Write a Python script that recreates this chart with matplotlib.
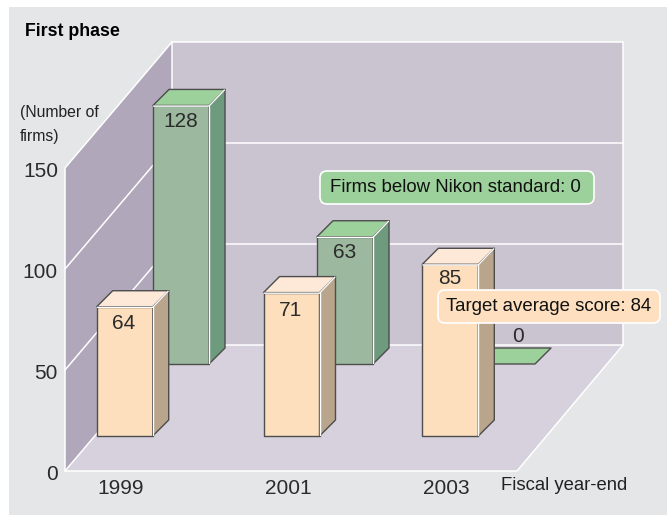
import numpy as np
import matplotlib
matplotlib.use("Agg")
import matplotlib.pyplot as plt
from matplotlib.patches import Polygon, FancyBboxPatch

years = ["1999", "2001", "2003"]
avg_score = [64, 71, 85]
firms = [128, 63, 0]
y_ticks = [0, 50, 100, 150]

# layout, all in pixels of the 672x515 picture
PX = 2.02          # pixels per firm
BASE = 471         # pixel row of value 0 on the front edge
front_x = [96.7, 263.5, 422.3]
back_x = [153, 317, 479]
front_gap = [17, 18, 14]
BAR_W = 56
BAR_D = 16
FRONT_LIFT = 35
BACK_LIFT = 107
WALL_DX, WALL_DY = 107, 126
FLOOR_L, FLOOR_R = 65, 517

BG = "#E5E6E8"
WALL = "#CAC3D0"
SIDE_WALL = "#B0A7BA"
FLOOR = "#D6D1DC"
TXT = "#2b2b2b"

plt.rcParams['font.family'] = ['Liberation Sans']

fig = plt.figure(figsize=(6.72, 5.15), dpi=100, facecolor="white")
ax = fig.add_axes([0, 0, 1, 1])
ax.set_xlim(0, 672)
ax.set_ylim(-(515 - BASE) / PX, BASE / PX)
ax.axis("off")


def up(px):
    return px / PX


def row(py):
    return (BASE - py) / PX


def poly(pts, fc, ec="none", lw=0, z=1):
    ax.add_patch(Polygon(pts, closed=True, fc=fc, ec=ec, lw=lw, zorder=z, joinstyle="round"))


def white(xs, ys, z=2, lw=1.1):
    ax.plot(xs, ys, color="white", lw=lw, zorder=z, solid_capstyle="round")


def bar(x, lift, val, front, top, side, z):
    y0 = up(lift)
    y1 = y0 + val
    d = up(BAR_D)
    edge = "#4d4d4d"
    if val > 0:
        poly([(x, y0), (x + BAR_W, y0), (x + BAR_W, y1), (x, y1)], front, edge, 1.0, z)
        poly([(x + BAR_W, y0), (x + BAR_W + BAR_D, y0 + d), (x + BAR_W + BAR_D, y1 + d), (x + BAR_W, y1)],
             side, edge, 1.0, z)
    poly([(x, y1), (x + BAR_W, y1), (x + BAR_W + BAR_D, y1 + d), (x + BAR_D, y1 + d)], top, edge, 1.0, z)
    if val > 0:
        white([x + 0.6, x + BAR_W, x + BAR_W + BAR_D - 0.6], [y1 - 0.3, y1 - 0.3, y1 + d - 0.3], z + 0.1, 1.0)
        white([x + BAR_W, x + BAR_W], [y0 + 0.3, y1 - 0.3], z + 0.1, 1.0)


# grey panel
ax.add_patch(plt.Rectangle((9, row(515)), 667 - 9, up(515 - 7), fc=BG, ec="none", zorder=0))

# walls and floor
top = y_ticks[-1]
dy = up(WALL_DY)
right = FLOOR_R + WALL_DX - 1
poly([(FLOOR_L + WALL_DX, dy), (right, dy), (right, dy + top), (FLOOR_L + WALL_DX, dy + top)], WALL)
poly([(FLOOR_L, 0), (FLOOR_L + WALL_DX, dy), (FLOOR_L + WALL_DX, dy + top), (FLOOR_L, top)], SIDE_WALL)
poly([(FLOOR_L, 0), (FLOOR_R, 0), (right, dy), (FLOOR_L + WALL_DX, dy)], FLOOR)

# white frame and grid
for v in y_ticks:
    white([FLOOR_L, FLOOR_L + WALL_DX, right], [v, v + dy, v + dy])
white([FLOOR_L, FLOOR_L], [0, top])
white([FLOOR_L + WALL_DX, FLOOR_L + WALL_DX], [dy, dy + top])
white([right, right], [dy, dy + top])
white([FLOOR_L, FLOOR_R, right], [0, 0, dy])

# bars, back row first
for x, v in zip(back_x, firms):
    bar(x, BACK_LIFT, v, "#9CB9A0", "#9DD19B", "#6E9A7D", 3)
for x, v in zip(front_x, avg_score):
    bar(x, FRONT_LIFT, v, "#FDDFBE", "#FEE9D8", "#B9A58C", 5)

# bar values
for x, v, gap in zip(front_x, avg_score, front_gap):
    ax.text(x + 27, up(FRONT_LIFT) + v - up(gap), str(v), ha="center", va="center", fontsize=15, color=TXT, zorder=8)
for x, v in zip(back_x, firms):
    if v > 0:
        ax.text(x + 27.5, up(BACK_LIFT) + v - up(16), str(v), ha="center", va="center", fontsize=15, color=TXT, zorder=8)
    else:
        ax.text(x + 39, up(BACK_LIFT) + up(28), str(v), ha="center", va="center", fontsize=15, color=TXT, zorder=8)

# axis labels
for v in y_ticks:
    ax.text(58, v + up(-3.5), str(v), ha="right", va="center", fontsize=15, color=TXT)
for x, lab in zip([121, 288, 446], years):
    ax.text(x, row(488), lab, ha="center", va="center", fontsize=15, color=TXT)
ax.text(564, row(486), "Fiscal year-end", ha="center", va="center", fontsize=13.3, color="#222222")
ax.text(20, row(112), "(Number of", ha="left", va="center", fontsize=11.3, color="#222222")
ax.text(20, row(136), "firms)", ha="left", va="center", fontsize=11.3, color="#222222")
ax.text(25, row(31), "First phase", ha="left", va="center", fontsize=12.8, fontweight="bold", color="black")


# callouts
def callout(x0, x1, ytop, ybot, fc, txt, cx):
    box = FancyBboxPatch((x0, row(ybot)), x1 - x0, up(ybot - ytop),
                         boxstyle="round,pad=0,rounding_size=7", mutation_aspect=1 / PX,
                         fc=fc, ec="white", lw=1.2, zorder=9)
    ax.add_patch(box)
    ax.text(cx, row((ytop + ybot) / 2), txt, ha="center", va="center", fontsize=13.4, color="#111111", zorder=10)


callout(320, 594, 171, 204, "#9DD19B", "Firms below Nikon standard: 0", 455)
callout(438, 660, 290, 323, "#FEDFBF", "Target average score: 84", 549)

fig.savefig("out.png", dpi=100)
